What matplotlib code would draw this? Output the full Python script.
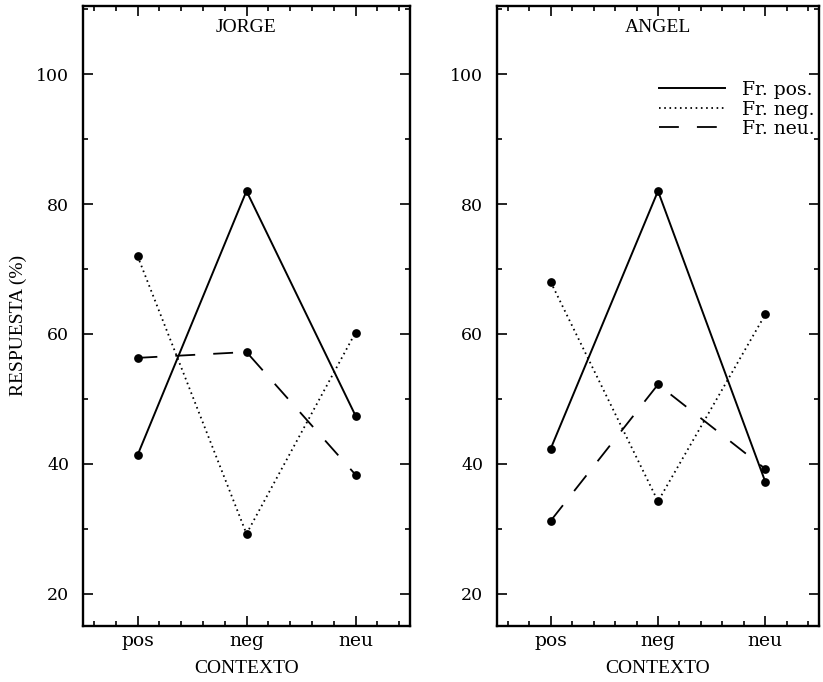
import matplotlib
matplotlib.use("Agg")
import matplotlib.pyplot as plt
from matplotlib.ticker import MultipleLocator, FixedLocator

categories = ["pos", "neg", "neu"]
series_labels = ["Fr. pos.", "Fr. neg.", "Fr. neu."]

jorge_pos = [41.3, 82.0, 47.4]
jorge_neg = [72.0, 29.2, 60.2]
jorge_neu = [56.3, 57.2, 38.3]

angel_pos = [42.3, 82.0, 37.2]
angel_neg = [68.0, 34.2, 63.0]
angel_neu = [31.2, 52.2, 39.2]

panel_titles = ["JORGE", "ANGEL"]
y_ticks = [20, 40, 60, 80, 100]

W, H = 823, 682
fig = plt.figure(figsize=(W / 100, H / 100), dpi=100)

styles = [
    dict(linestyle="-", linewidth=1.4),
    dict(linestyle=(0, (0.9, 2.0)), linewidth=1.3),
    dict(linestyle=(0, (11, 10)), linewidth=1.3),
]

serif = "Liberation Serif"

def make_axes(left_px, right_px):
    bottom_px, top_px = 626, 6
    return fig.add_axes([left_px / W, 1 - bottom_px / H,
                         (right_px - left_px) / W, (bottom_px - top_px) / H])

panels = [
    (make_axes(83, 410), [jorge_pos, jorge_neg, jorge_neu]),
    (make_axes(497, 819), [angel_pos, angel_neg, angel_neu]),
]

x = list(range(len(categories)))
for i, (ax, data) in enumerate(panels):
    for vals, st, lab in zip(data, styles, series_labels):
        ax.plot(x, vals, color="black", label=lab, **st)
        ax.plot(x, vals, color="black", linestyle="none", marker="o",
                markersize=6.3, markeredgewidth=0)
    ax.set_xlim(-0.5, 2.5)
    ax.set_ylim(15, 110.5)
    ax.set_xticks(x)
    ax.set_xticklabels(categories, family="DejaVu Serif", fontsize=13.5)
    ax.xaxis.set_minor_locator(MultipleLocator(0.2))
    ax.yaxis.set_major_locator(FixedLocator(y_ticks))
    ax.set_yticklabels([str(v) for v in y_ticks], family="DejaVu Serif",
                       fontsize=12.5)
    ax.yaxis.set_minor_locator(MultipleLocator(10))
    ax.tick_params(which="both", direction="in", top=True, right=True,
                   color="black", width=1.2)
    ax.tick_params(which="major", length=7.5)
    ax.tick_params(axis="y", which="major", pad=10)
    ax.tick_params(axis="x", which="major", pad=4.5)
    ax.tick_params(which="minor", length=3.8)
    for sp in ax.spines.values():
        sp.set_linewidth(1.7)
    ax.text(0.5, 0.966, panel_titles[i], transform=ax.transAxes,
            ha="center", va="center", family=serif, fontsize=14)
    ax.set_xlabel("CONTEXTO", family=serif, fontsize=14, labelpad=7)

panels[1][0].legend(loc="upper right", bbox_to_anchor=(0.985, 0.879),
                    frameon=False, prop=dict(family="DejaVu Serif", size=13.5),
                    handlelength=3.5, handletextpad=0.9, labelspacing=0.08,
                    borderpad=0, borderaxespad=0)

fig.text(18 / W, 1 - 325 / H, "RESPUESTA (%)", rotation=90, ha="center",
         va="center", family=serif, fontsize=14)

fig.savefig("out.png", dpi=100, facecolor="white")
